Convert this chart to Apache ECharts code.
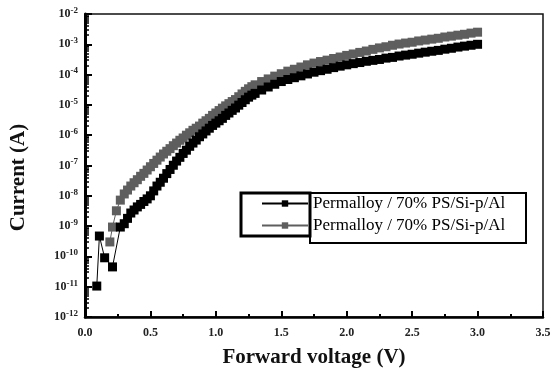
<!DOCTYPE html>
<html>
<head>
<meta charset="utf-8">
<script src="https://cdn.jsdelivr.net/npm/echarts@6/dist/echarts.min.js"></script>
<style>
  html, body { margin: 0; padding: 0; background: #fff; }
  #chart { width: 552px; height: 371px; }
</style>
</head>
<body>
<div id="chart"></div>
<script>
// forward voltage (V) and current (A)
var voltBlack = [0.09, 0.11, 0.15, 0.21, 0.27,
    0.30, 0.325, 0.35, 0.375, 0.40, 0.425, 0.45, 0.475, 0.50, 0.525, 0.55, 0.575, 0.60, 0.625, 0.65, 0.675,
    0.70, 0.725, 0.75, 0.775, 0.80, 0.825, 0.85, 0.875, 0.90, 0.925, 0.95, 0.975, 1.00, 1.025, 1.05, 1.075,
    1.10, 1.125, 1.15, 1.175, 1.20, 1.225, 1.25, 1.275,
    1.30, 1.35, 1.40, 1.45, 1.50, 1.55, 1.60, 1.65,
    1.70, 1.75, 1.80, 1.85, 1.90, 1.95, 2.00, 2.05, 2.10, 2.15, 2.20, 2.25, 2.30, 2.35,
    2.40, 2.45, 2.50, 2.55, 2.60, 2.65, 2.70, 2.75, 2.80, 2.85, 2.90, 2.95, 3.00];
var currBlack = [1.05e-11, 4.7e-10, 9e-11, 4.5e-11, 9.3e-10,
    1.2e-9, 1.8e-9, 2.7e-9, 3.4e-9, 4.3e-9, 5.2e-9, 6.5e-9, 7.9e-9, 1.0e-8, 1.45e-8, 2.1e-8, 2.8e-8, 3.8e-8, 5.4e-8, 7.4e-8, 1.02e-7,
    1.4e-7, 1.86e-7, 2.5e-7, 3.2e-7, 4.3e-7, 5.5e-7, 6.9e-7, 8.9e-7, 1.1e-6, 1.38e-6, 1.7e-6, 2.1e-6, 2.5e-6, 3.0e-6, 3.6e-6, 4.5e-6,
    5.4e-6, 6.6e-6, 7.9e-6, 9.8e-6, 1.2e-5, 1.48e-5, 1.8e-5, 2.1e-5,
    2.4e-5, 3.1e-5, 3.9e-5, 4.8e-5, 5.9e-5, 6.9e-5, 7.9e-5, 9.1e-5,
    1.05e-4, 1.2e-4, 1.35e-4, 1.5e-4, 1.7e-4, 1.9e-4, 2.1e-4, 2.3e-4, 2.5e-4, 2.75e-4, 2.95e-4, 3.16e-4, 3.5e-4, 3.7e-4,
    4.1e-4, 4.4e-4, 4.7e-4, 5.1e-4, 5.5e-4, 5.9e-4, 6.3e-4, 6.9e-4, 7.4e-4, 8.1e-4, 8.7e-4, 9.3e-4, 1.0e-3];

var voltGray = [0.19, 0.21, 0.24, 0.27,
    0.30, 0.325, 0.35, 0.375, 0.40, 0.425, 0.45, 0.475, 0.50, 0.525, 0.55, 0.575, 0.60, 0.625, 0.65, 0.675,
    0.70, 0.725, 0.75, 0.775, 0.80, 0.825, 0.85, 0.875, 0.90, 0.925, 0.95, 0.975, 1.00, 1.025, 1.05, 1.075,
    1.10, 1.125, 1.15, 1.175, 1.20, 1.225, 1.25, 1.275,
    1.30, 1.35, 1.40, 1.45, 1.50, 1.55, 1.60, 1.65,
    1.70, 1.75, 1.80, 1.85, 1.90, 1.95, 2.00, 2.05, 2.10, 2.15, 2.20, 2.25, 2.30, 2.35,
    2.40, 2.45, 2.50, 2.55, 2.60, 2.65, 2.70, 2.75, 2.80, 2.85, 2.90, 2.95, 3.00];
var currGray = [3.0e-10, 9.3e-10, 3.2e-9, 7.2e-9,
    1.15e-8, 1.55e-8, 2.1e-8, 2.7e-8, 3.4e-8, 4.4e-8, 5.5e-8, 7.1e-8, 9.1e-8, 1.17e-7, 1.5e-7, 1.9e-7, 2.4e-7, 2.95e-7, 3.6e-7, 4.5e-7,
    5.5e-7, 6.8e-7, 8.1e-7, 1.0e-6, 1.2e-6, 1.45e-6, 1.7e-6, 2.0e-6, 2.5e-6, 3.0e-6, 3.6e-6, 4.5e-6, 5.4e-6, 6.5e-6, 7.8e-6, 9.3e-6,
    1.1e-5, 1.29e-5, 1.5e-5, 1.86e-5, 2.3e-5, 2.8e-5, 3.4e-5, 4.0e-5,
    4.6e-5, 5.9e-5, 7.2e-5, 8.9e-5, 1.07e-4, 1.3e-4, 1.5e-4, 1.78e-4,
    2.1e-4, 2.4e-4, 2.7e-4, 3.0e-4, 3.4e-4, 3.8e-4, 4.3e-4, 4.8e-4, 5.4e-4, 6.0e-4, 6.8e-4, 7.6e-4, 8.3e-4, 9.3e-4,
    1.02e-3, 1.1e-3, 1.17e-3, 1.29e-3, 1.38e-3, 1.48e-3, 1.58e-3, 1.74e-3, 1.86e-3, 2.0e-3, 2.14e-3, 2.34e-3, 2.51e-3];

var seriesNames = ['Permalloy / 70% PS/Si-p/Al', 'Permalloy / 70% PS/Si-p/Al '];

var serif = '"Liberation Serif", "DejaVu Serif", serif';

// grid size, used to move the tick-only axes onto the left / bottom edges
var gridW = 552 - 85 - 9;
var gridH = 371 - 14 - 54;

function pairs(xs, ys) {
    return xs.map(function (x, i) { return [x, ys[i]]; });
}

var chart = echarts.init(document.getElementById('chart'));
var option = {
    animation: false,
    backgroundColor: '#fff',
    grid: {
        left: 85, right: 9, top: 14, bottom: 54, outerBoundsMode: 'none',
        show: true, borderColor: '#111', borderWidth: 1.5, backgroundColor: 'transparent'
    },
    legend: {
        left: 240,
        top: 192,
        orient: 'vertical',
        itemWidth: 46,
        itemHeight: 8,
        itemGap: 5,
        padding: [3, 17, 5, 21],
        textStyle: { fontFamily: serif, fontSize: 17, color: '#000' },
        data: seriesNames
    },
    graphic: [
        { type: 'rect', shape: { x: 241, y: 193, width: 69, height: 43 }, style: { fill: null, stroke: '#000', lineWidth: 3 }, z: 10 },
        { type: 'rect', shape: { x: 310, y: 193, width: 216, height: 50 }, style: { fill: null, stroke: '#000', lineWidth: 2 }, z: 10 }
    ],
    xAxis: [{
        type: 'value',
        min: 0,
        max: 3.5,
        interval: 0.5,
        name: 'Forward voltage (V)',
        nameLocation: 'middle',
        nameGap: 30,
        nameTextStyle: { fontFamily: serif, fontSize: 21, fontWeight: 'bold', color: '#111' },
        axisLine: { show: true, lineStyle: { color: '#000', width: 2.5 } },
        axisTick: { show: false },
        splitLine: { show: false },
        axisLabel: {
            margin: 10,
            fontFamily: serif, fontSize: 12, fontWeight: 'bold', color: '#222',
            formatter: function (v) { return v.toFixed(1); }
        }
    }, {
        // tick-only axis: a "top" axis moved down onto the bottom edge, so its ticks point up into the plot
        type: 'value', position: 'top', offset: -gridH, min: 0, max: 3.5, interval: 0.5,
        axisLine: { show: false, onZero: false },
        axisTick: { show: true, length: 6, lineStyle: { color: '#000', width: 2 } },
        minorTick: { show: true, splitNumber: 2, length: 3, lineStyle: { color: '#000', width: 2 } },
        axisLabel: { show: false }, splitLine: { show: false }
    }],
    yAxis: [{
        type: 'log',
        logBase: 10,
        min: 1e-12,
        max: 1e-2,
        name: 'Current (A)',
        nameLocation: 'middle',
        nameGap: 56,
        nameTextStyle: { fontFamily: serif, fontSize: 21, fontWeight: 'bold', color: '#111', padding: [0, 24, 0, 0] },
        axisLine: { show: true, lineStyle: { color: '#000', width: 3 } },
        axisTick: { show: false },
        splitLine: { show: false },
        axisLabel: {
            margin: 7,
            formatter: function (v) {
                var e = Math.round(Math.log10(v));
                return '{b|10}{s|' + e + '}';
            },
            rich: {
                b: { fontFamily: serif, fontSize: 12, fontWeight: 'bold', color: '#222' },
                s: { fontFamily: serif, fontSize: 9, fontWeight: 'bold', color: '#222', padding: [0, 0, 7, 0] }
            }
        }
    }, {
        // tick-only axis: a "right" axis moved onto the left edge, ticks point right into the plot
        type: 'log', logBase: 10, position: 'right', offset: -gridW, min: 1e-12, max: 1e-2,
        axisLine: { show: false, onZero: false },
        axisTick: { show: true, length: 7, lineStyle: { color: '#000', width: 2 } },
        minorTick: { show: true, splitNumber: 9, length: 4, lineStyle: { color: '#000', width: 1.5 } },
        axisLabel: { show: false }, splitLine: { show: false }
    }],
    series: [{
        name: seriesNames[0],
        type: 'line',
        z: 3,
        data: pairs(voltBlack, currBlack),
        symbol: 'rect',
        symbolSize: 9,
        showAllSymbol: true,
        color: '#000',
        lineStyle: { color: '#000', width: 1 },
        itemStyle: { color: '#000' }
    }, {
        name: seriesNames[1],
        type: 'line',
        z: 2,
        data: pairs(voltGray, currGray),
        symbol: 'rect',
        symbolSize: 9,
        showAllSymbol: true,
        color: '#5e5e5e',
        lineStyle: { color: '#5e5e5e', width: 1 },
        itemStyle: { color: '#5e5e5e' }
    }]
};
chart.setOption(option);
</script>
</body>
</html>
